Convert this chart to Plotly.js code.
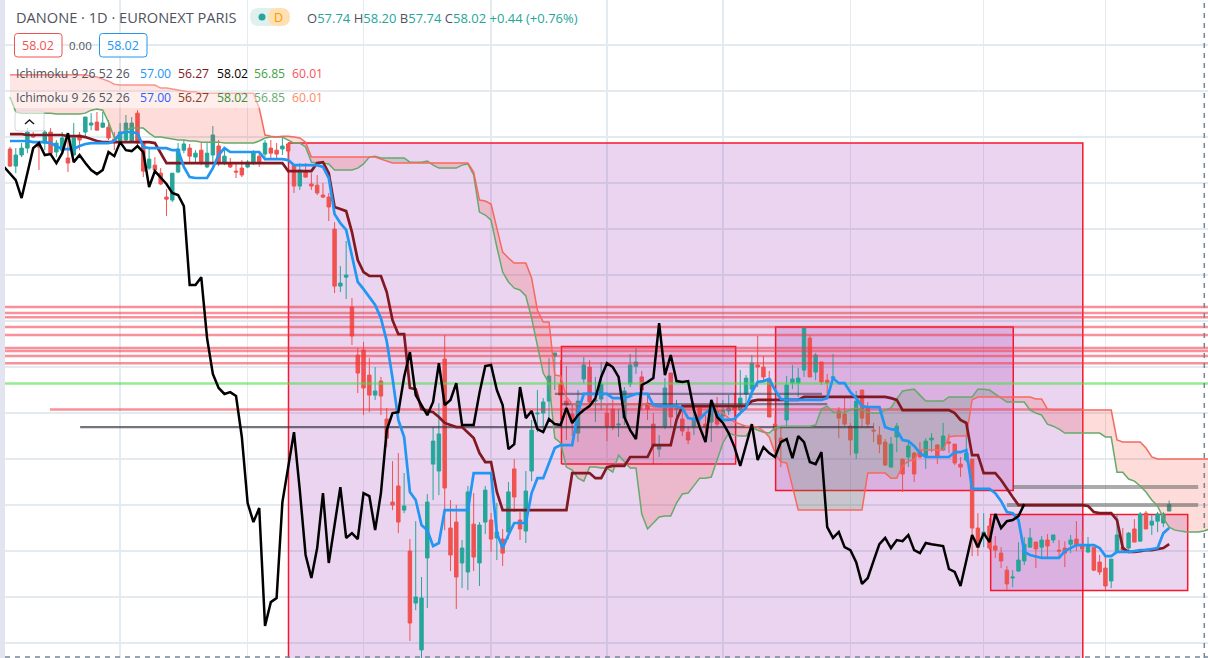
<!DOCTYPE html>
<html><head><meta charset="utf-8">
<script src="https://cdn.plot.ly/plotly-3.0.1.min.js"></script>
<style>html,body{margin:0;padding:0;background:#fff}#c{width:1208px;height:658px}</style>
</head><body><div id="c"></div>
<script>
const open_ = [73.48,72.74,73.22,73.52,74.09,73.61,73.74,74.22,73.35,73.43,
73.09,73.22,74.09,74.22,74.52,74.65,74.43,74.43,73.91,73.78,
73.87,73.78,75.04,73.74,72.65,72.78,72.43,71.39,71.26,72.48,
73.43,73.52,73.13,73.43,72.70,73.22,73.61,72.87,72.87,72.52,
72.65,72.70,72.87,73.17,73.26,73.52,73.43,73.48,73.70,72.78,
71.87,72.52,71.96,71.91,71.48,71.39,70,67.52,67.91,66.61,
64.52,64.74,63.65,62.78,63.39,61.74,58.13,58.83,57.78,56,
53.74,51.70,55.70,59.78,59.48,64.35,57,57.26,55.48,55.09,
57.17,55.48,57.26,57.35,56.57,56.52,56.83,59.57,57.35,56.87,
59.48,61.96,62,62.52,64.48,63.26,62.52,61.96,61.13,63.48,
64,62.52,62.61,62,62.17,61.48,61.78,63.26,64.04,63.57,
62.43,61.52,60.43,61.43,63.74,62.17,61.74,61.17,61.43,62.30,
61.52,61.61,62.13,61.87,62.09,62.30,62.13,62.83,63.04,64.09,
64,63.48,61.52,60.91,61.70,63.30,63.30,63.87,65.26,63.78,
64.22,63.43,63.52,62.09,61.96,61.43,60.26,63,62.22,61.26,
61.04,60.74,59.65,60.96,60,60.09,60.26,60.35,60.09,60.83,
60.61,60.39,60.74,60.65,59.78,59.96,60,57,56.70,57.09,
56.22,55.91,55.17,54.83,55.13,55.57,56.17,56.39,56.17,56.48,
56.48,56.04,56.13,56.30,56.52,56.26,55.96,56.17,55.52,55.26,
54.70,55.96,56.17,56.13,56.96,56.43,57.65,57.13,57.30,57.22,
57.74];
const high_ = [73.57,73.52,73.74,74.39,74.22,73.65,74.30,74.39,73.87,74.22,
74.17,74.61,74.22,74.87,75.04,75.09,75.09,74.74,74.22,74.61,
74.96,74.87,75.17,73.74,73.52,73.13,72.65,71.74,72.43,73.74,
73.87,73.70,73.43,73.74,73.74,74.48,73.87,73.57,73.09,72.91,
73,73,73.43,73.35,73.87,73.87,73.74,74.04,73.74,72.78,
72.87,72.87,72.43,72.35,72,71.57,70.30,68.39,69.48,67,
64.83,65.09,64.39,64,63.57,62.22,59.91,60.26,59.39,56.52,
57.30,54.87,58.48,61.39,62.43,65.39,58.22,58,56.48,58.83,
58.52,57.26,58.83,57.65,58.09,56.96,59,60,57.70,59.48,
61.70,63,62.65,64.39,64.61,64.30,64.04,62.43,63,64.43,
64.30,63.57,64.22,62.35,62.57,62.17,63.13,64.57,64.83,63.83,
62.87,62,61.04,63.52,63.74,62.57,62.35,61.39,62.43,62.35,
61.91,62.57,62.70,62.57,62.78,62.87,63.87,63.65,64.52,65.35,
64.48,63.83,61.91,61.39,63.61,64.09,63.96,65.70,65.39,64.61,
64.22,63.70,64.57,62.26,62.70,61.57,62.96,63,62.48,61.57,
61.43,60.87,60.96,61.57,60,60.74,60.30,60.74,60.91,61.13,
60.65,61.57,61.09,60.65,60.09,61,60,57.65,57.65,57.43,
56.65,56.17,55.35,55.17,56.39,56.61,57,56.39,56.65,56.74,
56.70,56.48,56.43,56.70,57.30,56.91,56.61,56.17,55.83,55.83,
55.65,57.57,57,56.83,57.39,57.70,57.74,57.57,57.70,57.70,
58.20];
const low_ = [72.70,72.43,73.13,73.30,73.96,72.57,73.43,73.22,73.13,73.35,
72.48,73.22,73.43,74,74.30,74.30,74.39,73.87,73.43,73.74,
73.78,73.74,73.65,72.26,72.57,72.43,71.91,70.57,71.17,72.43,
73.30,72.87,72.87,72.78,72.65,72.87,72.74,72.78,72.65,72.22,
72.26,72.65,72.78,72.70,73.13,73.09,73.09,73.22,73,71.57,
71.70,72.22,71.70,71.48,71.35,70.35,67.22,67.26,66.96,64.96,
62.87,61.91,62.04,62.57,61.91,60.52,57.78,56.78,57.65,52.09,
53.43,51.35,53.52,58.22,58.43,56.91,55.13,53.48,54.39,54.30,
55.13,54.48,56.74,55.96,55.61,55.35,56.52,57.70,56.48,56.35,
59.04,61.17,61.26,61.70,63,61.70,60.83,61,60.74,63.30,
62.30,61.61,62.13,60.78,61.26,60.96,61.48,63.13,63.70,62.13,
61.70,59.78,60.09,61.30,61.39,61.70,61,60.65,61.04,61.26,
61.13,60.74,61.39,61.48,61.91,61.70,61.91,62.26,62.65,63.13,
63.43,61.83,60.83,59.65,61.35,63.04,62.70,63.57,63.57,63.43,
63.22,62.70,63.43,60.91,61.39,60.17,60,61.39,61.35,60.74,
60.26,59.70,59.65,60.30,58.57,59.65,59,60.04,59.57,60.30,
59.78,60.35,60.26,59.74,59.22,59.87,55.78,55.78,56.17,56.04,
55.70,55.26,54.30,54.43,55.09,55.39,56.17,55.26,55.70,55.74,
56.35,55.70,55.30,55.91,56,55.96,55.91,55.13,54.96,54.30,
54.39,55.91,55.96,56.04,56.39,56.43,56.96,56.70,56.83,57.04,
57.74];
const close_ = [72.74,73.22,73.52,74.22,74,73.57,74.22,73.30,73.74,73.96,
72.87,73.96,73.87,74.87,74.61,74.30,74.61,73.96,73.78,74.22,
74.61,74.61,73.74,72.52,73.04,72.57,71.96,71.30,72.43,73.48,
73.70,73.17,73.30,72.87,73.30,74.09,72.87,73.17,72.70,72.48,
72.35,72.91,73.35,72.87,73.74,73.30,73.26,73.61,73.39,71.87,
72.57,72.26,71.87,71.57,71.39,70.96,67.52,67.65,68,65.35,
63.74,63.09,62.78,62.96,62.74,60.91,58,57.26,57.96,52.87,
54,53.96,58.13,60.78,61.09,58.74,55.83,54.87,56.13,58.57,
55.74,57.13,58.65,56.52,56.83,55.91,58.57,58.35,56.96,58.61,
61.26,62,62.48,63.61,64.61,62.78,62.35,61.65,62.52,64.09,
62.48,62.57,63.26,61.43,61.39,61.52,62.96,64.09,64.22,63,
62.17,60.57,60.57,63.09,61.83,62.22,61.22,60.83,61.70,61.78,
61.39,62.30,61.52,62.13,62.22,62.13,62.65,63.52,64.17,64,
63.57,61.83,61.26,60.74,63.22,63.48,63.52,65.70,63.57,64.52,
63.35,63.30,63.57,61.78,61.52,60.83,62.52,61.78,61.52,61.22,
60.65,59.74,60.65,61.43,59.35,60.57,59.35,60.09,60.78,60.91,
60.13,61,60.70,59.83,59.65,60.26,57,56.17,56.83,56.13,
56.04,55.57,54.57,54.87,55.61,56.30,56.57,56.09,56.48,56.22,
56.70,56,55.91,56.48,56.26,56.09,56.26,55.17,55.09,54.48,
55.65,56.70,56.04,56.78,56.39,57.61,56.96,57.30,57.61,57.61,
58.02];
const tenkan = [73.83,73.83,73.83,73.83,73.78,73.78,73.78,73.74,73.61,73.48,73.48,73.48,73.61,73.70,73.74,73.74,73.74,73.74,73.83,74.17,
74.22,74.22,74.17,73.57,73.52,73.52,73.52,73.52,73.43,73.43,72.70,72.26,72.22,72.22,72.22,72.65,73.22,73.52,73.35,73.35,
73.35,73.35,73.35,73.35,73.04,73.04,73.04,73.04,73,72.78,72.78,72.78,72.78,72.78,72.70,72.22,70.65,70.26,69.96,68.78,
67.70,67.39,67.04,66.70,66.13,65.13,63.52,61.70,60.96,58.57,58.22,57.13,56.91,56.22,56.35,57.78,57.78,57.78,57.78,57.78,
59.39,59.39,59.39,59.39,56.78,56.13,56.70,57.22,57.22,57.22,58.52,59.17,59.17,59.83,60.48,60.61,60.61,60.61,62.04,62.83,
62.83,62.83,62.83,62.83,62.65,62.65,62.65,62.74,62.83,62.83,62.83,62.35,62.30,62.30,62.30,62.30,62.22,61.78,61.74,61.74,
62,62.22,62,61.70,61.70,61.74,62,62.22,62.91,63.35,63.39,63.48,63,62.61,62.57,62.57,62.57,62.57,62.57,62.57,
62.57,62.65,63.52,63.30,63.30,62.91,62.65,62.30,62.26,62.26,62.26,61.39,61.30,61.26,60.83,60.78,60.57,60.26,60.09,60.09,
60.09,60.09,60.09,60.30,60.30,60.39,58.70,58.70,58.70,58.70,58.52,58.17,57.70,57.65,57.35,55.96,55.83,55.78,55.70,55.70,
55.70,55.70,56,56.13,56.26,56.26,56.26,56.26,56.13,55.78,55.78,55.96,55.96,55.96,56,56.04,56.04,56.09,56.13,56.78,57];
const kijun = [74.13,74.13,74.13,74.09,74.09,74.09,74.09,74.09,74.09,74.09,74.04,74.04,74.04,74,73.91,73.83,73.78,73.78,73.78,73.78,
73.78,73.78,73.78,73.78,73.78,73.74,73.30,72.87,72.87,72.87,72.87,72.87,72.87,72.87,72.87,72.87,72.87,72.87,72.87,72.87,
72.87,72.87,72.87,72.87,72.87,72.87,72.87,72.87,72.52,72.52,72.52,72.52,72.52,72.87,72.91,72.43,70.96,70.87,70.78,69.87,
68.65,68.13,67.96,67.96,67.96,67.26,66.04,65.43,65.43,63.09,63.04,62.17,62.09,62.04,61.83,61.57,61.48,61.39,61.39,61.17,
60.91,60.26,59.87,59.87,58.57,57.78,57.78,57.78,57.78,57.78,57.78,57.78,57.78,57.78,57.78,57.78,57.78,59.39,59.39,59.39,
59.39,59.17,59.17,59.65,59.70,59.70,59.70,60.09,60.09,60.09,60.09,60.61,60.61,60.61,60.61,61.70,62.30,62.30,62.30,62.30,
62.30,62.30,62.30,62.30,62.30,62.30,62.30,62.30,62.52,62.57,62.57,62.57,62.57,62.57,62.57,62.57,62.57,62.70,62.70,62.70,
62.70,62.70,62.70,62.70,62.70,62.70,62.70,62.70,62.70,62.70,62.70,62.70,62.65,62.57,62.13,62.13,62.13,62.13,62.13,62.13,
62.13,62.13,62.13,62,61.70,61.57,60.17,60.17,59.39,59.39,59.39,59.09,58.70,58.35,58,58,58,58,58,58,
58,58,58,58,58,58,57.96,57.70,57.65,57.65,57.65,57.35,56.13,55.96,55.96,56,56.04,56.04,56.09,56.13,56.30];
const chikou = [72.70,72.43,72.13,71.35,72.48,73.52,73.74,73.22,73.26,72.87,73.30,74.17,72.91,73.22,72.87,72.57,72.39,72.57,73.35,73.17,
73.78,73.43,73.39,73.61,73.35,71.83,72.52,72.26,71.96,71.57,71.48,71,67.57,67.57,67.91,65.26,63.70,63.09,62.83,62.91,
62.74,60.96,58.09,57.26,57.87,52.74,53.78,53.96,58.13,59.65,61.17,58.65,55.83,54.83,56.13,58.52,55.48,57.13,58.78,56.57,
56.78,56.52,58.52,58.39,56.91,58.52,61.26,62,62.04,63.57,64.65,62.78,62.35,61.91,62.48,64.17,62.35,62.57,63.30,61.48,
61.48,61.48,62.87,64.04,64.09,63,62.35,60.43,60.65,63.13,61.78,62.09,61.30,61.17,61.74,61.52,61.48,62.22,61.57,61.91,
62.13,62.30,62.65,63.57,64.17,64,63.57,61.83,61.26,60.87,63.22,63.35,63.52,65.91,63.65,64.52,63.39,63.35,63.39,62.13,
61.39,60.74,62.57,61.83,61.57,61.13,60.52,59.70,60.61,61.52,59.96,60.52,60.26,60.09,60.74,60.87,60.04,61,60.74,59.87,
59.78,60.30,57.04,56.57,56.83,56.17,56.04,55.52,54.57,54.83,55.57,56.30,56.57,56.13,56.48,56.43,56.70,56.04,55.91,56.35,
56.30,56.26,56.22,55.22,55.09,54.48,55.61,56.70,56.17,56.78,56.39,57.61,57,57.30,57.35,57.52,58.04];
const senkouA = [75.74,75.09,75.04,75.04,75.04,75.04,75.04,75.04,75,75,75,75,75,75.04,75.17,75.22,75.17,74.65,73.96,74.09,
74.30,74.39,74.39,74.39,74.17,74,74,73.96,73.91,73.87,73.87,73.83,73.83,73.78,73.78,73.78,73.78,73.74,73.74,73.74,
73.74,73.74,73.74,73.83,73.96,74,74,74,73.87,73.74,73.74,73.57,72.91,72.87,72.87,72.83,72.57,72.57,72.57,72.57,
72.65,72.83,73.13,73.17,73.09,73.09,73.09,73.09,73.09,72.91,72.91,72.91,72.96,72.78,72.65,72.65,72.65,72.65,72.78,72.83,
72.35,70.74,70.61,70.39,69.22,68.13,67.70,67.43,67.35,67.09,66.13,64.96,63.74,63.30,60.91,60.70,59.65,59.52,59.17,59.04,
59.65,59.65,59.61,59.61,59.43,60.17,59.91,59.61,59.61,57.61,56.96,57.22,57.48,57.52,57.52,58.09,58.48,58.52,58.87,59.17,
59.17,59.22,59.96,60.70,61.13,61.04,61,61,61.35,61.26,61.17,61.13,61.35,61.43,61.43,61.43,61.43,61.43,61.43,61.48,
62.17,62.30,62.04,62.04,62.04,62.13,62.22,62.13,62.04,62,62,62.13,62.22,62.61,62.96,63,63.04,62.78,62.52,62.52,
62.52,62.52,62.70,62.70,62.70,62.70,62.70,63.04,63.04,63,62.83,62.65,62.48,62.48,62.48,62.48,62.13,62,61.91,61.52,
61.43,61.30,61.13,61.13,61.13,61.13,61.13,61.13,61.13,60.96,60.96,59.43,59.43,59.13,59.04,58.83,58.57,58.22,57.96,57.43,
57.04,56.91,56.87,56.83,56.83,56.83,56.87,56.96];
const senkouB = [76.70,76.70,76.70,76.70,76.70,76.70,76.70,76.70,76.70,76.70,76.70,76.70,76.70,76.70,76.65,76.61,76.52,76.43,76.30,76.26,
76.26,76.26,76.26,76.26,76.26,76.26,76.13,76.13,76.09,76.04,76,75.96,75.96,75.91,75.91,75.91,75.91,75.91,75.91,75.91,
75.91,75.91,75.91,75.26,74.09,74.04,74,74.04,74.04,74,73.96,73.78,73.13,73.13,73.13,73.13,73.13,73.13,73.13,73.13,
73.13,73.13,73.13,73.13,73.04,72.96,72.87,72.87,72.87,72.87,72.87,72.87,72.87,72.87,72.87,72.87,72.87,72.87,72.87,72.87,
72.48,71.26,71.22,71.09,70.04,69,68.74,68.52,68.52,68.52,67.87,66.48,65.96,65.96,63.65,63.61,62.70,62.39,62.39,62.39,
62.39,62.39,62.39,62.39,62.39,62.39,62.39,62.39,62.39,62.39,62.39,62.26,62.26,62.26,62.26,62.26,62.26,62.26,62.26,62.26,
62.26,62.26,62.17,62,61.78,61.61,61.52,61.43,61.43,61.39,61.22,60.96,60.26,59.87,59.83,58.83,57.78,57.78,57.78,57.78,
57.78,57.78,57.78,57.78,57.78,57.78,57.78,57.78,59.39,59.39,59.39,59.39,59.17,59.17,59.70,59.91,59.96,60.39,60.39,60.39,
60.39,60.39,60.96,61,61,61,62.57,62.70,62.70,62.70,62.70,62.70,62.70,62.70,62.70,62.70,62.70,62.61,62.61,62.17,
62.13,62.13,62.13,62.13,62.13,62.13,62.13,62.13,62.13,62.13,62.13,60.83,60.74,60.74,60.74,60.74,60.48,60.09,60,60,
60,60,60,60,60,60,60,60];
const gridPrices = [52,54,56,58,60,62,64,66,68,70,72,74,76,78];
const gridBars = [19,41,61,83,103,123,145,168,189];
const redLevels = [66.61,66.35,66.17,65.74,65.39,64.83,64.70,64.48,64.17];
const greenLevel = [63.28];
const supportBars = [6.9,185], supportPrice = [62.15];
const greyBars = [12.1,149], greyPrice = [61.39];
const darkBarsA = [94,140.1], darkPriceA = [62.83];
const darkBarsB = [95.2,141], darkPriceB = [62.39];
const thickBarsA = [173,205], thickPriceA = [58.78];
const thickBarsB = [172,205], thickPriceB = [58];
const boxBig = {b:[48.05,185.1], p:[50,73.74]};
const boxMid = {b:[132.1,173.1], p:[58.63,65.74]};
const boxLow = {b:[169.2,203.2], p:[54.28,57.59]};
const boxTop = {b:[95.15,125.2], p:[59.78,64.89]};

const idx = a => a.map((_, i) => i);
const bars = idx(close_);
const cloudX = idx(senkouA);
const top_ = senkouA.map((v, i) => Math.max(v, senkouB[i]));
const W = 1208, H = 658;
const PX = x => x / W, PY = y => 1 - y / H;
const seg = (bs, p, color, w) => ({x:[bs[0],bs[1]], y:[p,p], mode:'lines', line:{color, width:w}, hoverinfo:'skip', type:'scatter'});
const fillT = (x, y, fill, color) => ({x, y, type:'scatter', mode:'lines', line:{width:0, color:'rgba(0,0,0,0)'}, fill, fillcolor:color, hoverinfo:'skip'});
const lineT = (x, y, color, w) => ({x, y, type:'scatter', mode:'lines', line:{color, width:w}, hoverinfo:'skip'});

const traces = [
 {type:'candlestick', x:bars, open:open_, high:high_, low:low_, close:close_, whiskerwidth:0,
  increasing:{line:{color:'#26a69a', width:1}, fillcolor:'#26a69a'},
  decreasing:{line:{color:'#ef5350', width:1}, fillcolor:'#ef5350'}, hoverinfo:'skip'},
 fillT(cloudX, senkouA, 'none', 'rgba(0,0,0,0)'),
 fillT(cloudX, top_, 'tonexty', 'rgba(244,67,54,0.19)'),
 fillT(cloudX, senkouB, 'none', 'rgba(0,0,0,0)'),
 fillT(cloudX, top_, 'tonexty', 'rgba(76,150,80,0.22)'),
 {x:[boxTop.b[0],boxTop.b[1],boxTop.b[1],boxTop.b[0],boxTop.b[0]], y:[boxTop.p[0],boxTop.p[0],boxTop.p[1],boxTop.p[1],boxTop.p[0]],
  type:'scatter', mode:'lines', line:{color:'#f7162b', width:1.5}, fill:'toself', fillcolor:'rgba(156,39,176,0.14)', hoverinfo:'skip'},
 ...redLevels.map(v => seg([-0.9,208], v, 'rgba(242,54,69,0.55)', 2.5)),
 seg([-0.9,208], greenLevel[0], 'rgba(76,222,76,0.6)', 2.5),
 seg(supportBars, supportPrice[0], 'rgba(242,54,69,0.55)', 2.5),
 seg(greyBars, greyPrice[0], 'rgba(60,55,70,0.7)', 2.2),
 seg(darkBarsA, darkPriceA[0], 'rgba(60,55,70,0.55)', 2.2),
 seg(darkBarsB, darkPriceB[0], 'rgba(60,55,70,0.55)', 2.2),
 seg(thickBarsA, thickPriceA[0], 'rgba(90,90,90,0.5)', 4),
 seg(thickBarsB, thickPriceB[0], 'rgba(90,90,90,0.5)', 4),
 lineT(cloudX, senkouA, '#66a96a', 1.5),
 lineT(cloudX, senkouB, '#f7685f', 1.5),
 lineT(bars, kijun, '#801922', 2.7),
 lineT(bars, tenkan, '#2196f3', 2.7),
 lineT(chikou.map((_, i) => i - 1), chikou, '#000000', 2.5)
];

const rr = (x0,y0,x1,y1,r) => {
 const rx=r/W, ry=r/H, a=PX(x0), b=PX(x1), t=PY(y0), u=PY(y1);
 return `M${a+rx},${t} L${b-rx},${t} Q${b},${t} ${b},${t-ry} L${b},${u+ry} Q${b},${u} ${b-rx},${u} L${a+rx},${u} Q${a},${u} ${a},${u+ry} L${a},${t-ry} Q${a},${t} ${a+rx},${t} Z`;
};
const pRect = (x0,y0,x1,y1,fill) => ({type:'rect',xref:'paper',yref:'paper',x0:PX(x0),x1:PX(x1),y0:PY(y0),y1:PY(y1),fillcolor:fill,line:{width:0},layer:'above'});
const dataBox = (b) => ({type:'rect',xref:'x',yref:'y',x0:b.b[0],x1:b.b[1],y0:b.p[0],y1:b.p[1],fillcolor:'rgba(156,39,176,0.2)',line:{color:'#f7162b',width:1.5},layer:'between'});

const shapes = [
 dataBox(boxBig), dataBox(boxMid), dataBox(boxLow),
 pRect(10,75,262,92,'rgba(255,255,255,0.3)'),
 pRect(10,92,262,108,'rgba(255,255,255,0.5)'),
 pRect(0,0,5,658,'#e2e4f0'),
 {type:'line',xref:'paper',yref:'paper',x0:PX(1204.3),x1:PX(1204.3),y0:0,y1:1,line:{color:'#758696',width:1.5,dash:'5px,5px'},layer:'above'},
 {type:'line',xref:'paper',yref:'paper',x0:PX(5),x1:1,y0:PY(657),y1:PY(657),line:{color:'#758696',width:1.5,dash:'5px,5px'},layer:'above'},
 {type:'path',xref:'paper',yref:'paper',path:rr(250,8,280,26,9),fillcolor:'#e0f0ee',line:{width:0},layer:'above'},
 {type:'path',xref:'paper',yref:'paper',path:rr(268,8,290,26,9),fillcolor:'#ffe0b2',line:{width:0},layer:'above'},
 {type:'circle',xref:'paper',yref:'paper',x0:PX(258.5),x1:PX(265.5),y0:PY(13.5),y1:PY(20.5),fillcolor:'#26a69a',line:{width:0},layer:'above'},
 {type:'path',xref:'paper',yref:'paper',path:rr(14.5,33.5,62,57,3),fillcolor:'rgba(255,255,255,0.8)',line:{color:'#ef5350',width:1},layer:'above'},
 {type:'path',xref:'paper',yref:'paper',path:rr(99.5,33.5,147,57,3),fillcolor:'rgba(255,255,255,0.8)',line:{color:'#2196f3',width:1},layer:'above'},
 {type:'path',xref:'paper',yref:'paper',path:rr(15,111,44,131,3),fillcolor:'rgba(255,255,255,0.6)',line:{color:'#d6d8e0',width:1},layer:'above'},
 {type:'path',xref:'paper',yref:'paper',path:`M${PX(25)},${PY(124)} L${PX(29.5)},${PY(120)} L${PX(34)},${PY(124)}`,line:{color:'#131722',width:1.4},layer:'above'}
];

const FF = '"Open Sans", sans-serif';
const T = (x,y,text,color,size,anchor) => ({x:PX(x),y:PY(y),xref:'paper',yref:'paper',text,showarrow:false,xanchor:anchor||'left',yanchor:'middle',align:'left',borderpad:0,font:{family:FF,size,color}});
const G = '#26a69a', D = '#50535e';
const s = (c,t) => `<span style="color:${c}">${t}</span>`;
const annotations = [
 T(15,17,'DANONE · 1D · EURONEXT PARIS',D,14.6),
 T(278.5,17,'D','#ff9800',12.5,'center'),
 T(306,18,s(D,'O')+s(G,'57.74')+' '+s(D,'H')+s(G,'58.20')+' '+s(D,'B')+s(G,'57.74')+' '+s(D,'C')+s(G,'58.02')+' '+s(G,'+0.44 (+0.76%)'),G,13),
 T(38,45,'58.02','#ef5350',12.5,'center'),
 T(80.5,45,'0.00',D,11.5,'center'),
 T(123,45,'58.02','#2196f3',12.5,'center'),
 T(15,74,'Ichimoku 9 26 52 26',D,12.2),
 T(139,74,'57.00','#2196f3',12.2),T(177,74,'56.27','#801922',12.2),T(216,74,'58.02','#000000',12.2),T(253,74,'56.85','#43a047',12.2),T(291,74,'60.01','#f7525f',12.2),
 T(15,97,'Ichimoku 9 26 52 26',D,12.2),
 T(139,97,'57.00','#2962ff',12.2),T(177,97,'56.27','#8a3a22',12.2),T(216,97,'58.02','#388e3c',12.2),T(253,97,'56.85','#6aa96e',12.2),T(291,97,'60.01','#ff8a65',12.2)
];

const layout = {
 width:W, height:H, margin:{l:0,r:0,t:0,b:0}, paper_bgcolor:'#ffffff', plot_bgcolor:'#ffffff',
 showlegend:false, boxgap:0.15, boxmode:'overlay', dragmode:false,
 xaxis:{type:'linear', range:[-1.725,206.7], tickmode:'array', tickvals:gridBars, showticklabels:false, ticks:'', showgrid:true, gridcolor:'#e3ebf1', gridwidth:1.5, zeroline:false, showline:false, rangeslider:{visible:false}, fixedrange:true},
 yaxis:{type:'linear', range:[51.35,79.96], tickmode:'array', tickvals:gridPrices, showticklabels:false, ticks:'', showgrid:true, gridcolor:'#e3ebf1', gridwidth:1.5, zeroline:false, showline:false, fixedrange:true},
 shapes, annotations
};
Plotly.newPlot('c', traces, layout, {displayModeBar:false, staticPlot:true});
</script></body></html>
